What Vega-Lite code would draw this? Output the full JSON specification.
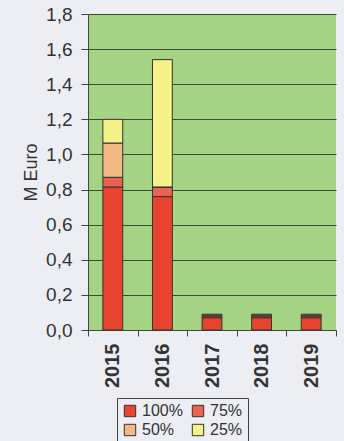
{
  "$schema": "https://vega.github.io/schema/vega-lite/v6.json",
  "width": 248,
  "height": 316,
  "padding": {"left": 22, "top": 5, "right": 8, "bottom": 0},
  "background": "#eceef3",
  "config": {
    "font": "Liberation Sans",
    "view": {"fill": "#a4d483", "stroke": null},
    "axis": {"domainColor": "#444", "tickColor": "#444", "labelColor": "#333", "titleColor": "#333"}
  },
  "data": {
    "values": [
      {"year": "2015", "share": "100%", "pct": 100, "value": 0.815},
      {"year": "2015", "share": "75%", "pct": 75, "value": 0.055},
      {"year": "2015", "share": "50%", "pct": 50, "value": 0.195},
      {"year": "2015", "share": "25%", "pct": 25, "value": 0.135},
      {"year": "2016", "share": "100%", "pct": 100, "value": 0.76},
      {"year": "2016", "share": "75%", "pct": 75, "value": 0.055},
      {"year": "2016", "share": "50%", "pct": 50, "value": 0.0},
      {"year": "2016", "share": "25%", "pct": 25, "value": 0.725},
      {"year": "2017", "share": "100%", "pct": 100, "value": 0.07},
      {"year": "2017", "share": "75%", "pct": 75, "value": 0.01},
      {"year": "2017", "share": "50%", "pct": 50, "value": 0.005},
      {"year": "2017", "share": "25%", "pct": 25, "value": 0.005},
      {"year": "2018", "share": "100%", "pct": 100, "value": 0.07},
      {"year": "2018", "share": "75%", "pct": 75, "value": 0.01},
      {"year": "2018", "share": "50%", "pct": 50, "value": 0.005},
      {"year": "2018", "share": "25%", "pct": 25, "value": 0.005},
      {"year": "2019", "share": "100%", "pct": 100, "value": 0.07},
      {"year": "2019", "share": "75%", "pct": 75, "value": 0.01},
      {"year": "2019", "share": "50%", "pct": 50, "value": 0.005},
      {"year": "2019", "share": "25%", "pct": 25, "value": 0.005}
    ]
  },
  "mark": {"type": "bar", "width": {"band": 0.4}, "stroke": "#333", "strokeWidth": 1},
  "encoding": {
    "x": {
      "field": "year", "type": "nominal",
      "scale": {"paddingInner": 0, "paddingOuter": 0},
      "axis": {
        "title": null, "labelAngle": -90, "labelFontSize": 20, "labelFontWeight": "bold",
        "tickBand": "extent", "tickSize": 6, "labelPadding": 7
      }
    },
    "y": {
      "field": "value", "type": "quantitative", "stack": "zero",
      "scale": {"domain": [0, 1.8], "nice": false},
      "axis": {
        "title": "M Euro", "titleFontSize": 18, "titleFontWeight": "normal", "titlePadding": 5,
        "values": [0, 0.2, 0.4, 0.6, 0.8, 1.0, 1.2, 1.4, 1.6, 1.8],
        "labelExpr": "replace(format(datum.value, '.1f'), '.', ',')",
        "labelFontSize": 19, "tickSize": 7, "labelPadding": 9,
        "gridColor": "#3b4a36", "gridWidth": 1.2
      }
    },
    "color": {
      "field": "share", "type": "nominal",
      "scale": {"domain": ["100%", "75%", "50%", "25%"], "range": ["#e8432f", "#ea6350", "#f3b983", "#f6f28a"]},
      "legend": {
        "title": null, "orient": "none", "direction": "horizontal", "legendX": 29, "legendY": 384, "columns": 2,
        "strokeColor": "#444", "padding": 5, "columnPadding": 7, "rowPadding": 3,
        "symbolType": "square", "symbolSize": 130, "symbolStrokeColor": "#333", "symbolStrokeWidth": 1,
        "labelFontSize": 16, "labelColor": "#333", "labelOffset": 4
      }
    },
    "order": {"field": "pct", "sort": "descending"}
  }
}
